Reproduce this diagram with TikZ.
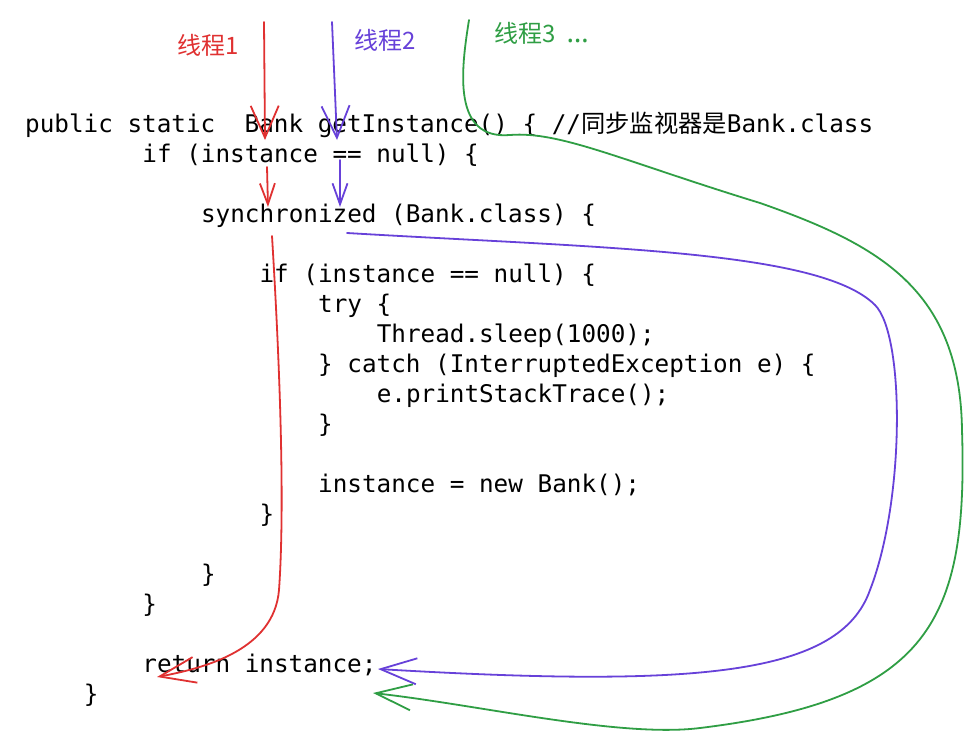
\documentclass[tikz,border=0pt]{standalone}
\usepackage{fontspec}
\setmonofont{DejaVu Sans Mono}
\newfontfamily\cjk{Noto Sans CJK SC}
\newfontfamily\lsans{Noto Sans}
\usetikzlibrary{arrows.meta}
\definecolor{t1red}{HTML}{E03131}
\definecolor{t2violet}{HTML}{6741D9}
\definecolor{t3green}{HTML}{2F9E44}
\begin{document}
\begin{tikzpicture}[x=1pt,y=-1pt,
  code/.style={anchor=base west,inner sep=0pt,font=\ttfamily\fontsize{24.3pt}{30pt}\selectfont},
  tag/.style={anchor=west,inner sep=0pt,font=\cjk\fontsize{24pt}{28pt}\selectfont},
  t1/.style={draw=t1red,line width=1.8pt,line cap=round,line join=round},
  t2/.style={draw=t2violet,line width=1.8pt,line cap=round,line join=round},
  t3/.style={draw=t3green,line width=1.8pt,line cap=round,line join=round},
  bighead/.style={-{Straight Barb[length=32pt,width=28pt]}},
  smallhead/.style={-{Straight Barb[length=21pt,width=15pt]}},
  backhead/.style={-{Straight Barb[length=36pt,width=26pt]}}]
\useasboundingbox (0,0) rectangle (978,744);
\fill[white] (0,0) rectangle (978,744);

% the code
\node[code] (sig) at (25,132) {public static\ \ Bank getInstance() \{ //{\cjk 同步监视器是}Bank.class};
\node[code] (outerif) at (142.2,162.05) {if (instance == null) \{};
\node[code] (sync) at (200.8,222.15) {synchronized (Bank.class) \{};
\node[code] (innerif) at (259.4,282.25) {if (instance == null) \{};
\node[code] (try) at (318,312.3) {try \{};
\node[code] (sleep) at (376.6,342.35) {Thread.sleep(1000);};
\node[code] (catch) at (318,372.4) {\} catch (InterruptedException e) \{};
\node[code] (trace) at (376.6,402.45) {e.printStackTrace();};
\node[code] (endtry) at (318,432.5) {\}};
\node[code] (assign) at (318,492.6) {instance = new Bank();};
\node[code] (endinner) at (259.4,522.65) {\}};
\node[code] (endsync) at (200.8,582.75) {\}};
\node[code] (endouter) at (142.2,612.8) {\}};
\node[code] (ret) at (142.2,672.9) {return instance;};
\node[code] (endsig) at (83.6,702.95) {\}};

% the threads
\node[tag,text=t1red] (tag1) at (177,45) {线程1};
\node[tag,text=t2violet] (tag2) at (354,40) {线程2};
\node[tag,text=t3green] (tag3) at (494,33) {线程3\hspace{11pt}{\lsans\fontsize{28pt}{28pt}\selectfont …}};

% thread 1
\coordinate (r1a) at (264,22);
\coordinate (r1b) at (265,140);
\coordinate (r2a) at (267,167);
\coordinate (r2b) at (268,207);
\coordinate (r3a) at (272,236);
\coordinate (r3b) at (157,677);
\draw[t1,bighead] (r1a) -- (r1b);
\draw[t1,smallhead] (r2a) -- (r2b);
\draw[t1,backhead] (r3a) .. controls (282,400) and (284,520) .. (279,590)
  .. controls (274,650) and (205,668) .. (r3b);

% thread 2
\coordinate (p1a) at (332,22);
\coordinate (p1b) at (337,140);
\coordinate (p2a) at (340,160);
\coordinate (p2b) at (340,207);
\coordinate (p3a) at (347,233);
\coordinate (p3b) at (378,669);
\draw[t2,bighead] (p1a) -- (p1b);
\draw[t2,smallhead] (p2a) -- (p2b);
\draw[t2,backhead] (p3a) .. controls (600,248) and (820,250) .. (875,305)
  .. controls (905,335) and (905,500) .. (870,590)
  .. controls (840,675) and (700,688) .. (p3b);

% thread 3
\coordinate (g1a) at (469,20);
\coordinate (g1b) at (373,693);
\draw[t3,backhead] (g1a) .. controls (461,70) and (452,140) .. (510,135)
  .. controls (560,131) and (620,160) .. (760,203)
  .. controls (880,245) and (960,290) .. (962,430)
  .. controls (968,620) and (930,700) .. (700,728)
  .. controls (620,738) and (480,705) .. (g1b);
\end{tikzpicture}
\end{document}
